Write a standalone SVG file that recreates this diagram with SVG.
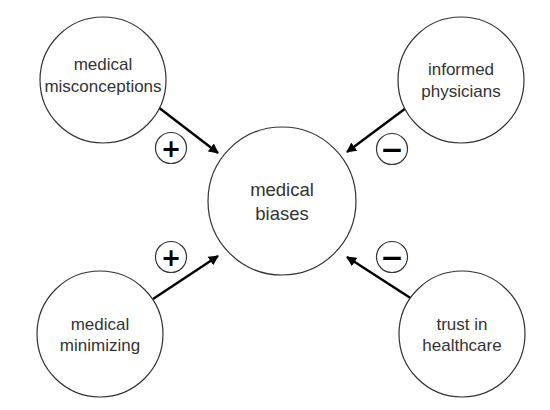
<svg xmlns="http://www.w3.org/2000/svg" width="550" height="410" viewBox="0 0 550 410">
<defs>
<style>
.node{fill:#fff;stroke:#333;stroke-width:1.2}
.lbl{font-family:"Liberation Sans","Open Sans",sans-serif;font-size:17px;fill:#333;text-anchor:middle}
.big{font-size:18.5px}
.edge{stroke:#000;stroke-width:2.4;fill:none;marker-end:url(#ah)}
.sign{fill:#fff;stroke:#333;stroke-width:1.2}
.sym{font-family:"DejaVu Sans",sans-serif;font-weight:bold;font-size:24px;fill:#000;text-anchor:middle}
.minus{font-size:28px}
</style>
<marker id="ah" viewBox="0 0 10 10" refX="9" refY="5" markerWidth="4.2" markerHeight="4.2" orient="auto" markerUnits="strokeWidth">
<path d="M0,0 L10,5 L0,10 z" fill="#000"/>
</marker>
</defs>
<rect width="550" height="410" fill="#fff"/>
<g id="connectors">
<line class="edge" x1="158" y1="107" x2="218" y2="153"/>
<line class="edge" x1="406" y1="108" x2="347" y2="152"/>
<line class="edge" x1="153" y1="299" x2="218" y2="256"/>
<line class="edge" x1="412" y1="299" x2="347" y2="257"/>
</g>
<g id="n-biases">
<circle class="node" cx="282" cy="201" r="74"/>
<text class="lbl big" x="282" y="196">medical</text>
<text class="lbl big" x="282" y="220">biases</text>
</g>
<g id="n-misconceptions">
<circle class="node" cx="103" cy="80" r="63"/>
<text class="lbl" x="103" y="70">medical</text>
<text class="lbl" x="103" y="92">misconceptions</text>
</g>
<g id="n-physicians">
<circle class="node" cx="461" cy="80" r="63"/>
<text class="lbl" x="461" y="75">informed</text>
<text class="lbl" x="461" y="97">physicians</text>
</g>
<g id="n-minimizing">
<circle class="node" cx="100" cy="334" r="63"/>
<text class="lbl" x="100" y="330">medical</text>
<text class="lbl" x="100" y="351">minimizing</text>
</g>
<g id="n-trust">
<circle class="node" cx="462" cy="334" r="63"/>
<text class="lbl" x="462" y="330">trust in</text>
<text class="lbl" x="462" y="351">healthcare</text>
</g>
<g id="sign-1">
<circle class="sign" cx="171" cy="148" r="15.5"/>
<text class="sym" x="171" y="157">+</text>
</g>
<g id="sign-2">
<circle class="sign" cx="392" cy="149" r="15.5"/>
<text class="sym minus" x="392" y="159">−</text>
</g>
<g id="sign-3">
<circle class="sign" cx="171" cy="257" r="15.5"/>
<text class="sym" x="171" y="266">+</text>
</g>
<g id="sign-4">
<circle class="sign" cx="392" cy="257" r="15.5"/>
<text class="sym minus" x="392" y="267">−</text>
</g>
</svg>
